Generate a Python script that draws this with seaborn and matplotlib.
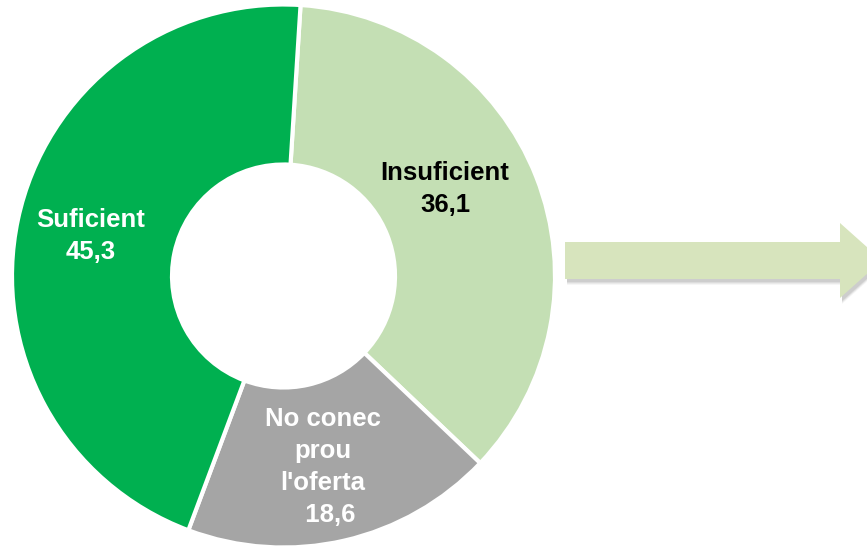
import matplotlib
matplotlib.use("Agg")
import matplotlib.pyplot as plt
from matplotlib.patches import Polygon
import seaborn as sns

categories = ["Insuficient", "No conec\nprou\nl'oferta", "Suficient"]
values = [36.1, 18.6, 45.3]
colors = ["#c4dfb4", "#a5a5a5", "#00b050"]
label_colors = ["#000000", "#ffffff", "#ffffff"]

sns.set_style("white")
plt.rcParams['font.family'] = ['Liberation Sans', 'DejaVu Sans']

W, H = 867, 547
fig = plt.figure(figsize=(W / 100, H / 100), dpi=100)
ax = fig.add_axes([0, 0, 1, 1])

cx, cy, R = 283.5, H - 276, 271.5
wedges, _ = ax.pie(values, colors=colors, startangle=86.4, counterclock=False,
                   center=(cx, cy), radius=R,
                   wedgeprops=dict(width=R - 111.5, edgecolor="white", linewidth=3))

ax.set_xlim(0, W)
ax.set_ylim(0, H)
ax.set_aspect("equal")
ax.axis("off")

# labels
fmt = lambda v: f"{v:.1f}".replace(".", ",")
pos = [(445, H - 189), (323, H - 467), (91, H - 236)]
for cat, v, (x, y), col in zip(categories, values, pos, label_colors):
    txt = f"{cat}\n{fmt(v)}"
    if "oferta" in cat:
        txt = f"{cat}\n  {fmt(v)}"
    ax.text(x, y, txt, ha="center", va="center", fontsize=18.5, fontweight="bold",
            color=col, linespacing=1.42)

# arrow with soft shadow
def arrow_pts(dx=0, dy=0):
    pts = [(565, 305), (840, 305), (840, 324), (882, 286.5), (840, 249), (840, 268), (565, 268)]
    return [(x + dx, y + dy) for x, y in pts]

for i, a in enumerate([0.05, 0.07, 0.09, 0.11]):
    off = 6 - i
    ax.add_patch(Polygon(arrow_pts(2, -off), closed=True, facecolor="#555555",
                         edgecolor="none", alpha=a, zorder=1))
ax.add_patch(Polygon(arrow_pts(), closed=True, facecolor="#d7e4bd", edgecolor="none", zorder=2))

fig.savefig("out.png", dpi=100)
